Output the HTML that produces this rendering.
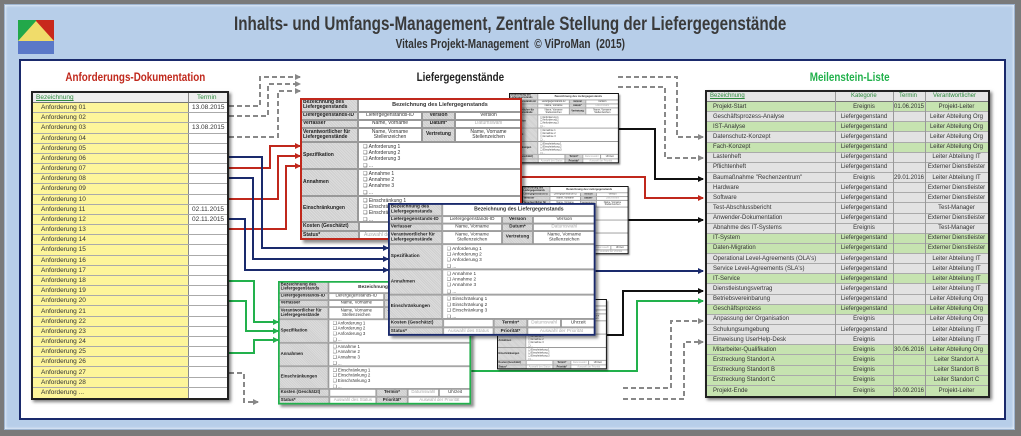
<!DOCTYPE html>
<html><head><meta charset="utf-8">
<style>
*{margin:0;padding:0;box-sizing:border-box}
body{width:1021px;height:436px;overflow:hidden;background:#7a7a7a;font-family:"Liberation Sans",sans-serif;position:relative}
#frame{position:absolute;left:4px;top:4px;width:1011px;height:426px;background:#b7cee9;border:1px solid #9fb5d0;box-shadow:inset 0 0 3px #fff}
#panel{position:absolute;left:19px;top:59px;width:987px;height:361px;background:#fff;border:2px solid #1a2a6c}
.logo{position:absolute;left:18px;top:20px;width:36px;height:34px}
.t1{position:absolute;left:0;width:1021px;top:14px;text-align:center;font-weight:bold;font-size:19px;color:#3a3a3a}
.t1 span,.t2 span{display:inline-block;transform:scaleX(.8)}
.t2{position:absolute;left:0;width:1021px;top:37px;text-align:center;font-weight:bold;font-size:12.5px;color:#333}
.sec{position:absolute;top:70px;font-weight:bold;font-size:12px;text-align:center}
.sec span{display:inline-block;transform:scaleX(.82)}
.tbl{position:absolute;border:2px solid #222;box-shadow:2px 2px 3px rgba(0,0,0,.5);background:#fff;font-size:6.5px;color:#333}
.tbl .hd{position:absolute;left:0;top:0;right:0;background:#eee;border-bottom:1px solid #777;color:#2e8b3e}
.tbl .rows{position:absolute;left:0;right:0;bottom:0;display:grid}
.r{position:relative;border-bottom:1px solid #aaa;white-space:nowrap}
.r span{position:absolute;top:0;bottom:0;display:flex;align-items:center}
.rt .r{font-size:6px}
.rt .r span:first-child{left:6px}
.rt .r .k{left:128px;width:58px;justify-content:center}
.rt .r .t{left:186px;width:32px;justify-content:center}
.rt .r .w{left:218px;width:63px;justify-content:center}
.G{background:#c6e3b0}.E{background:#e2e2e2}
.cd{position:absolute;width:222px;height:142px;transform-origin:0 0;background:#fff;box-shadow:3px 3px 3px rgba(0,0,0,.45);font-size:5px;color:#333}
.cd div{position:absolute;border:0.5px solid #999;display:flex;align-items:center;overflow:hidden;line-height:1.1}
.cd .k{background:repeating-linear-gradient(45deg,#cfcfcf 0 1px,#dcdcdc 1px 2px);font-weight:bold;padding-left:2px;color:#222}
.cd .v{justify-content:center;text-align:center}
.cd .g{color:#aaa}
.cd .l{justify-content:flex-start;align-items:flex-start;flex-direction:column;padding:1px 4px;line-height:6.2px;text-align:left}
.cd .c{justify-content:center;padding:0}
.cd .bd{border:2px solid #111;left:0;top:0;width:222px;height:142px;background:none}
.a1{left:0;top:0;width:58px;height:14px}.a2{left:58px;top:0;width:164px;height:14px;font-weight:bold;font-size:5.5px}
.a3{left:0;top:14px;width:58px;height:8px}.a4{left:58px;top:14px;width:64px;height:8px}.a5{left:122px;top:14px;width:33px;height:8px}.a6{left:155px;top:14px;width:67px;height:8px}
.a7{left:0;top:22px;width:58px;height:8px}.a8{left:58px;top:22px;width:64px;height:8px}.a9{left:122px;top:22px;width:33px;height:8px}.a10{left:155px;top:22px;width:67px;height:8px}
.a11{left:0;top:30px;width:58px;height:14px}.a12{left:58px;top:30px;width:64px;height:14px}.a13{left:122px;top:30px;width:33px;height:14px}.a14{left:155px;top:30px;width:67px;height:14px}
.a15{left:0;top:44px;width:58px;height:27px}.a16{left:58px;top:44px;width:164px;height:27px}
.a17{left:0;top:71px;width:58px;height:27px}.a18{left:58px;top:71px;width:164px;height:27px}
.a19{left:0;top:98px;width:58px;height:26px}.a20{left:58px;top:98px;width:164px;height:26px}
.a21{left:0;top:124px;width:59px;height:9px}.a22{left:59px;top:124px;width:54px;height:9px}.a23{left:113px;top:124px;width:36px;height:9px}.a24{left:149px;top:124px;width:36px;height:9px}.a25{left:185px;top:124px;width:37px;height:9px}
.a26{left:0;top:133px;width:59px;height:9px}.a27{left:59px;top:133px;width:54px;height:9px}.a28{left:113px;top:133px;width:36px;height:9px}.a29{left:149px;top:133px;width:73px;height:9px}
svg.cn{position:absolute;left:0;top:0}
</style></head><body>
<div id="frame"></div>
<div id="panel"></div>
<svg class="logo" viewBox="0 0 36 34"><rect x="0" y="0" width="18" height="21" fill="#22a84a"/><rect x="18" y="0" width="18" height="21" fill="#c8281c"/><polygon points="0,21 18,1 36,21" fill="#f0dc6a"/><rect x="0" y="21" width="36" height="13" fill="#5a78c8"/></svg>
<div class="t1"><span>Inhalts- und Umfangs-Management, Zentrale Stellung der Liefergegenstände</span></div>
<div class="t2"><span>Vitales Projekt-Management &nbsp;© ViProMan &nbsp;(2015)</span></div>
<div class="sec" style="left:30px;width:210px;color:#c0281c"><span>Anforderungs-Dokumentation</span></div>
<div class="sec" style="left:380px;width:160px;color:#222"><span>Liefergegenstände</span></div>
<div class="sec" style="left:770px;width:160px;color:#22b14c"><span>Meilenstein-Liste</span></div>

<svg class="cn" width="1021" height="436">
<defs>
<marker id="mk" markerWidth="6" markerHeight="6" refX="5" refY="3" orient="auto" markerUnits="userSpaceOnUse"><path d="M0,0 L6,3 L0,6z" fill="#111"/></marker>
<marker id="mr" markerWidth="6" markerHeight="6" refX="5" refY="3" orient="auto" markerUnits="userSpaceOnUse"><path d="M0,0 L6,3 L0,6z" fill="#c0281c"/></marker>
<marker id="mb" markerWidth="6" markerHeight="6" refX="5" refY="3" orient="auto" markerUnits="userSpaceOnUse"><path d="M0,0 L6,3 L0,6z" fill="#1a2a6c"/></marker>
<marker id="mg" markerWidth="6" markerHeight="6" refX="5" refY="3" orient="auto" markerUnits="userSpaceOnUse"><path d="M0,0 L6,3 L0,6z" fill="#22b14c"/></marker>
<marker id="my" markerWidth="6" markerHeight="6" refX="5" refY="3" orient="auto" markerUnits="userSpaceOnUse"><path d="M0,0 L6,3 L0,6z" fill="#888"/></marker>
</defs>
<g fill="none" stroke-width="2">
<g stroke="#888" stroke-dasharray="5,3" marker-end="url(#my)">
<path d="M229,106 H260 V77 H300"/><path d="M229,116 H268 V84 H300"/><path d="M229,137 H278 V91 H300"/>
<path d="M229,373 H244 V402 H258"/>
<path d="M618,77 H677 V137 H703"/><path d="M618,87 H665 V158 H703"/>
<path d="M623,388 H671 V321 H703"/><path d="M623,399 H684 V342 H703"/>
</g>
<g stroke="#c0281c" marker-end="url(#mr)">
<path d="M229,168 H270 V146 H300"/><path d="M229,199 H278 V156 H300"/><path d="M229,229 H286 V166 H300"/>
<path d="M520,177 H645 V198 H703"/>
</g>
<g stroke="#1a2a6c" marker-end="url(#mb)">
<path d="M229,157 H262 V248 H388"/><path d="M229,178 H253 V259 H388"/><path d="M229,219 H245 V270 H388"/>
<path d="M560,271 H703"/>
</g>
<g stroke="#22b14c" marker-end="url(#mg)">
<path d="M229,281 H254 V322 H278"/><path d="M229,301 H246 V331 H278"/><path d="M229,353 H254 V340 H278"/>
<path d="M470,371 H637 V301 H703"/>
</g>
<g stroke="#111" marker-end="url(#mk)">
<path d="M617,129 H655 V179 H703"/><path d="M624,220 H703"/><path d="M605,335 H623 V291 H703"/>
</g>
</g>
</svg>

<!-- left table -->
<div class="tbl" style="left:31px;top:91px;width:198px;height:309px">
<div class="hd" style="height:10px"><span style="position:absolute;left:3px;top:1px;text-decoration:underline">Bezeichnung</span><span style="position:absolute;left:164px;top:1px">Termin</span><span style="position:absolute;left:155px;top:0;width:1px;height:10px;background:#888"></span></div>
<div class="rows" style="top:10px;grid-template-rows:repeat(29,1fr);background:linear-gradient(90deg,#fdf59a 0 155px,#888 155px 156px,#fff 156px)">
<div class="r"><span style="left:8px">Anforderung 01</span><span style="left:159px">13.08.2015</span></div>
<div class="r"><span style="left:8px">Anforderung 02</span></div>
<div class="r"><span style="left:8px">Anforderung 03</span><span style="left:159px">13.08.2015</span></div>
<div class="r"><span style="left:8px">Anforderung 04</span></div>
<div class="r"><span style="left:8px">Anforderung 05</span></div>
<div class="r"><span style="left:8px">Anforderung 06</span></div>
<div class="r"><span style="left:8px">Anforderung 07</span></div>
<div class="r"><span style="left:8px">Anforderung 08</span></div>
<div class="r"><span style="left:8px">Anforderung 09</span></div>
<div class="r"><span style="left:8px">Anforderung 10</span></div>
<div class="r"><span style="left:8px">Anforderung 11</span><span style="left:159px">02.11.2015</span></div>
<div class="r"><span style="left:8px">Anforderung 12</span><span style="left:159px">02.11.2015</span></div>
<div class="r"><span style="left:8px">Anforderung 13</span></div>
<div class="r"><span style="left:8px">Anforderung 14</span></div>
<div class="r"><span style="left:8px">Anforderung 15</span></div>
<div class="r"><span style="left:8px">Anforderung 16</span></div>
<div class="r"><span style="left:8px">Anforderung 17</span></div>
<div class="r"><span style="left:8px">Anforderung 18</span></div>
<div class="r"><span style="left:8px">Anforderung 19</span></div>
<div class="r"><span style="left:8px">Anforderung 20</span></div>
<div class="r"><span style="left:8px">Anforderung 21</span></div>
<div class="r"><span style="left:8px">Anforderung 22</span></div>
<div class="r"><span style="left:8px">Anforderung 23</span></div>
<div class="r"><span style="left:8px">Anforderung 24</span></div>
<div class="r"><span style="left:8px">Anforderung 25</span></div>
<div class="r"><span style="left:8px">Anforderung 26</span></div>
<div class="r"><span style="left:8px">Anforderung 27</span></div>
<div class="r"><span style="left:8px">Anforderung 28</span></div>
<div class="r" style="border:0"><span style="left:8px">Anforderung ...</span></div>
</div></div>

<!-- right table -->
<div class="tbl rt" style="left:705px;top:90px;width:285px;height:308px">
<div class="hd" style="height:10px;background:#e4e4e4;font-size:6px"><span style="position:absolute;left:3px;top:1px;text-decoration:underline">Bezeichnung</span><span style="position:absolute;left:144px;top:1px">Kategorie</span><span style="position:absolute;left:192px;top:1px">Termin</span><span style="position:absolute;left:226px;top:1px">Verantwortlicher</span></div>
<div class="rows" style="top:10px;grid-template-rows:repeat(29,1fr)">
<div class="r G"><span>Projekt-Start</span><span class="k">Ereignis</span><span class="t">01.06.2015</span><span class="w">Projekt-Leiter</span></div>
<div class="r E"><span>Geschäftsprozess-Analyse</span><span class="k">Liefergegenstand</span><span class="w">Leiter Abteilung Org</span></div>
<div class="r G"><span>IST-Analyse</span><span class="k">Liefergegenstand</span><span class="w">Leiter Abteilung Org</span></div>
<div class="r E"><span>Datenschutz-Konzept</span><span class="k">Liefergegenstand</span><span class="w">Leiter Abteilung Org</span></div>
<div class="r G"><span>Fach-Konzept</span><span class="k">Liefergegenstand</span><span class="w">Leiter Abteilung Org</span></div>
<div class="r E"><span>Lastenheft</span><span class="k">Liefergegenstand</span><span class="w">Leiter Abteilung IT</span></div>
<div class="r E"><span>Pflichtenheft</span><span class="k">Liefergegenstand</span><span class="w">Externer Dienstleister</span></div>
<div class="r E"><span>Baumaßnahme "Rechenzentrum"</span><span class="k">Ereignis</span><span class="t">29.01.2016</span><span class="w">Leiter Abteilung IT</span></div>
<div class="r E"><span>Hardware</span><span class="k">Liefergegenstand</span><span class="w">Externer Dienstleister</span></div>
<div class="r E"><span>Software</span><span class="k">Liefergegenstand</span><span class="w">Externer Dienstleister</span></div>
<div class="r E"><span>Test-Abschlussbericht</span><span class="k">Liefergegenstand</span><span class="w">Test-Manager</span></div>
<div class="r E"><span>Anwender-Dokumentation</span><span class="k">Liefergegenstand</span><span class="w">Externer Dienstleister</span></div>
<div class="r E"><span>Abnahme des IT-Systems</span><span class="k">Ereignis</span><span class="w">Test-Manager</span></div>
<div class="r G"><span>IT-System</span><span class="k">Liefergegenstand</span><span class="w">Externer Dienstleister</span></div>
<div class="r G"><span>Daten-Migration</span><span class="k">Liefergegenstand</span><span class="w">Externer Dienstleister</span></div>
<div class="r E"><span>Operational Level-Agreements (OLA's)</span><span class="k">Liefergegenstand</span><span class="w">Leiter Abteilung IT</span></div>
<div class="r E"><span>Service Level-Agreements (SLA's)</span><span class="k">Liefergegenstand</span><span class="w">Leiter Abteilung IT</span></div>
<div class="r G"><span>IT-Service</span><span class="k">Liefergegenstand</span><span class="w">Leiter Abteilung IT</span></div>
<div class="r E"><span>Dienstleistungsvertrag</span><span class="k">Liefergegenstand</span><span class="w">Leiter Abteilung IT</span></div>
<div class="r E"><span>Betriebsvereinbarung</span><span class="k">Liefergegenstand</span><span class="w">Leiter Abteilung Org</span></div>
<div class="r G"><span>Geschäftsprozess</span><span class="k">Liefergegenstand</span><span class="w">Leiter Abteilung Org</span></div>
<div class="r E"><span>Anpassung der Organisation</span><span class="k">Ereignis</span><span class="w">Leiter Abteilung Org</span></div>
<div class="r E"><span>Schulungsumgebung</span><span class="k">Liefergegenstand</span><span class="w">Leiter Abteilung IT</span></div>
<div class="r E"><span>Einweisung UserHelp-Desk</span><span class="k">Ereignis</span><span class="w">Leiter Abteilung IT</span></div>
<div class="r G"><span>Mitarbeiter-Qualifikation</span><span class="k">Ereignis</span><span class="t">30.06.2016</span><span class="w">Leiter Abteilung Org</span></div>
<div class="r G"><span>Erstreckung Standort A</span><span class="k">Ereignis</span><span class="w">Leiter Standort A</span></div>
<div class="r G"><span>Erstreckung Standort B</span><span class="k">Ereignis</span><span class="w">Leiter Standort B</span></div>
<div class="r G"><span>Erstreckung Standort C</span><span class="k">Ereignis</span><span class="w">Leiter Standort C</span></div>
<div class="r G" style="border:0"><span>Projekt-Ende</span><span class="k">Ereignis</span><span class="t">30.09.2016</span><span class="w">Projekt-Leiter</span></div>
</div>
<div style="position:absolute;top:0;bottom:0;left:128px;width:1px;background:#999"></div>
<div style="position:absolute;top:0;bottom:0;left:186px;width:1px;background:#999"></div>
<div style="position:absolute;top:0;bottom:0;left:218px;width:1px;background:#999"></div>
</div>

<!-- cards: small first -->
<div class="cd" style="left:509px;top:93px;transform:scale(.495)">
<div class="k a1">Bezeichnung des Liefergegenstands</div><div class="v a2">Bezeichnung des Liefergegenstands</div>
<div class="k a3">Liefergegenstands-ID</div><div class="v a4">Liefergegenstands-ID</div><div class="k c a5">Version</div><div class="v a6">Version</div>
<div class="k a7">Verfasser</div><div class="v a8">Name, Vorname</div><div class="k c a9">Datum*</div><div class="v g a10">Datumswahl</div>
<div class="k a11">Verantwortlicher für Liefergegenstände</div><div class="v a12">Name, Vorname Stellenzeichen</div><div class="k c a13">Vertretung</div><div class="v a14">Name, Vorname Stellenzeichen</div>
<div class="k a15">Spezifikation</div><div class="v l a16"><span>❑ Anforderung 1</span><span>❑ Anforderung 2</span><span>❑ Anforderung 3</span><span>❑ ...</span></div>
<div class="k a17">Annahmen</div><div class="v l a18"><span>❑ Annahme 1</span><span>❑ Annahme 2</span><span>❑ Annahme 3</span><span>❑ ...</span></div>
<div class="k a19">Einschränkungen</div><div class="v l a20"><span>❑ Einschränkung 1</span><span>❑ Einschränkung 2</span><span>❑ Einschränkung 3</span><span>❑ ...</span></div>
<div class="k a21">Kosten (Geschätzt)</div><div class="v a22"></div><div class="k c a23">Termin*</div><div class="v g a24">Datumswahl</div><div class="v a25">Uhrzeit</div>
<div class="k a26">Status*</div><div class="v g a27">Auswahl des Status</div><div class="k c a28">Priorität*</div><div class="v g a29">Auswahl der Priorität</div>
<div class="bd"></div></div>

<div class="cd" style="left:522px;top:186px;transform:scale(.48)">
<div class="k a1">Bezeichnung des Liefergegenstands</div><div class="v a2">Bezeichnung des Liefergegenstands</div>
<div class="k a3">Liefergegenstands-ID</div><div class="v a4">Liefergegenstands-ID</div><div class="k c a5">Version</div><div class="v a6">Version</div>
<div class="k a7">Verfasser</div><div class="v a8">Name, Vorname</div><div class="k c a9">Datum*</div><div class="v g a10">Datumswahl</div>
<div class="k a11">Verantwortlicher für Liefergegenstände</div><div class="v a12">Name, Vorname Stellenzeichen</div><div class="k c a13">Vertretung</div><div class="v a14">Name, Vorname Stellenzeichen</div>
<div class="k a15">Spezifikation</div><div class="v l a16"><span>❑ Anforderung 1</span><span>❑ Anforderung 2</span><span>❑ Anforderung 3</span><span>❑ ...</span></div>
<div class="k a17">Annahmen</div><div class="v l a18"><span>❑ Annahme 1</span><span>❑ Annahme 2</span><span>❑ Annahme 3</span><span>❑ ...</span></div>
<div class="k a19">Einschränkungen</div><div class="v l a20"><span>❑ Einschränkung 1</span><span>❑ Einschränkung 2</span><span>❑ Einschränkung 3</span><span>❑ ...</span></div>
<div class="k a21">Kosten (Geschätzt)</div><div class="v a22"></div><div class="k c a23">Termin*</div><div class="v g a24">Datumswahl</div><div class="v a25">Uhrzeit</div>
<div class="k a26">Status*</div><div class="v g a27">Auswahl des Status</div><div class="k c a28">Priorität*</div><div class="v g a29">Auswahl der Priorität</div>
<div class="bd"></div></div>

<div class="cd" style="left:497px;top:299px;transform:scale(.495)">
<div class="k a1">Bezeichnung des Liefergegenstands</div><div class="v a2">Bezeichnung des Liefergegenstands</div>
<div class="k a3">Liefergegenstands-ID</div><div class="v a4">Liefergegenstands-ID</div><div class="k c a5">Version</div><div class="v a6">Version</div>
<div class="k a7">Verfasser</div><div class="v a8">Name, Vorname</div><div class="k c a9">Datum*</div><div class="v g a10">Datumswahl</div>
<div class="k a11">Verantwortlicher für Liefergegenstände</div><div class="v a12">Name, Vorname Stellenzeichen</div><div class="k c a13">Vertretung</div><div class="v a14">Name, Vorname Stellenzeichen</div>
<div class="k a15">Spezifikation</div><div class="v l a16"><span>❑ Anforderung 1</span><span>❑ Anforderung 2</span><span>❑ Anforderung 3</span><span>❑ ...</span></div>
<div class="k a17">Annahmen</div><div class="v l a18"><span>❑ Annahme 1</span><span>❑ Annahme 2</span><span>❑ Annahme 3</span><span>❑ ...</span></div>
<div class="k a19">Einschränkungen</div><div class="v l a20"><span>❑ Einschränkung 1</span><span>❑ Einschränkung 2</span><span>❑ Einschränkung 3</span><span>❑ ...</span></div>
<div class="k a21">Kosten (Geschätzt)</div><div class="v a22"></div><div class="k c a23">Termin*</div><div class="v g a24">Datumswahl</div><div class="v a25">Uhrzeit</div>
<div class="k a26">Status*</div><div class="v g a27">Auswahl des Status</div><div class="k c a28">Priorität*</div><div class="v g a29">Auswahl der Priorität</div>
<div class="bd"></div></div>

<!-- red card -->
<div class="cd" style="left:300px;top:98px;transform:scale(1)">
<div class="k a1">Bezeichnung des Liefergegenstands</div><div class="v a2">Bezeichnung des Liefergegenstands</div>
<div class="k a3">Liefergegenstands-ID</div><div class="v a4">Liefergegenstands-ID</div><div class="k c a5">Version</div><div class="v a6">Version</div>
<div class="k a7">Verfasser</div><div class="v a8">Name, Vorname</div><div class="k c a9">Datum*</div><div class="v g a10">Datumswahl</div>
<div class="k a11">Verantwortlicher für Liefergegenstände</div><div class="v a12">Name, Vorname Stellenzeichen</div><div class="k c a13">Vertretung</div><div class="v a14">Name, Vorname Stellenzeichen</div>
<div class="k a15">Spezifikation</div><div class="v l a16"><span>❑ Anforderung 1</span><span>❑ Anforderung 2</span><span>❑ Anforderung 3</span><span>❑ ...</span></div>
<div class="k a17">Annahmen</div><div class="v l a18"><span>❑ Annahme 1</span><span>❑ Annahme 2</span><span>❑ Annahme 3</span><span>❑ ...</span></div>
<div class="k a19">Einschränkungen</div><div class="v l a20"><span>❑ Einschränkung 1</span><span>❑ Einschränkung 2</span><span>❑ Einschränkung 3</span><span>❑ ...</span></div>
<div class="k a21">Kosten (Geschätzt)</div><div class="v a22"></div><div class="k c a23">Termin*</div><div class="v g a24">Datumswahl</div><div class="v a25">Uhrzeit</div>
<div class="k a26">Status*</div><div class="v g a27">Auswahl des Status</div><div class="k c a28">Priorität*</div><div class="v g a29">Auswahl der Priorität</div>
<div class="bd" style="border-color:#c0281c"></div></div>

<!-- green card -->
<div class="cd" style="left:278px;top:281px;transform:scale(.87)">
<div class="k a1">Bezeichnung des Liefergegenstands</div><div class="v a2">Bezeichnung des Liefergegenstands</div>
<div class="k a3">Liefergegenstands-ID</div><div class="v a4">Liefergegenstands-ID</div><div class="k c a5">Version</div><div class="v a6">Version</div>
<div class="k a7">Verfasser</div><div class="v a8">Name, Vorname</div><div class="k c a9">Datum*</div><div class="v g a10">Datumswahl</div>
<div class="k a11">Verantwortlicher für Liefergegenstände</div><div class="v a12">Name, Vorname Stellenzeichen</div><div class="k c a13">Vertretung</div><div class="v a14">Name, Vorname Stellenzeichen</div>
<div class="k a15">Spezifikation</div><div class="v l a16"><span>❑ Anforderung 1</span><span>❑ Anforderung 2</span><span>❑ Anforderung 3</span><span>❑ ...</span></div>
<div class="k a17">Annahmen</div><div class="v l a18"><span>❑ Annahme 1</span><span>❑ Annahme 2</span><span>❑ Annahme 3</span><span>❑ ...</span></div>
<div class="k a19">Einschränkungen</div><div class="v l a20"><span>❑ Einschränkung 1</span><span>❑ Einschränkung 2</span><span>❑ Einschränkung 3</span><span>❑ ...</span></div>
<div class="k a21">Kosten (Geschätzt)</div><div class="v a22"></div><div class="k c a23">Termin*</div><div class="v g a24">Datumswahl</div><div class="v a25">Uhrzeit</div>
<div class="k a26">Status*</div><div class="v g a27">Auswahl des Status</div><div class="k c a28">Priorität*</div><div class="v g a29">Auswahl der Priorität</div>
<div class="bd" style="border-color:#22b14c"></div></div>

<!-- blue card -->
<div class="cd" style="left:388px;top:203px;transform:scale(.935)">
<div class="k a1">Bezeichnung des Liefergegenstands</div><div class="v a2">Bezeichnung des Liefergegenstands</div>
<div class="k a3">Liefergegenstands-ID</div><div class="v a4">Liefergegenstands-ID</div><div class="k c a5">Version</div><div class="v a6">Version</div>
<div class="k a7">Verfasser</div><div class="v a8">Name, Vorname</div><div class="k c a9">Datum*</div><div class="v g a10">Datumswahl</div>
<div class="k a11">Verantwortlicher für Liefergegenstände</div><div class="v a12">Name, Vorname Stellenzeichen</div><div class="k c a13">Vertretung</div><div class="v a14">Name, Vorname Stellenzeichen</div>
<div class="k a15">Spezifikation</div><div class="v l a16"><span>❑ Anforderung 1</span><span>❑ Anforderung 2</span><span>❑ Anforderung 3</span><span>❑ ...</span></div>
<div class="k a17">Annahmen</div><div class="v l a18"><span>❑ Annahme 1</span><span>❑ Annahme 2</span><span>❑ Annahme 3</span><span>❑ ...</span></div>
<div class="k a19">Einschränkungen</div><div class="v l a20"><span>❑ Einschränkung 1</span><span>❑ Einschränkung 2</span><span>❑ Einschränkung 3</span><span>❑ ...</span></div>
<div class="k a21">Kosten (Geschätzt)</div><div class="v a22"></div><div class="k c a23">Termin*</div><div class="v g a24">Datumswahl</div><div class="v a25">Uhrzeit</div>
<div class="k a26">Status*</div><div class="v g a27">Auswahl des Status</div><div class="k c a28">Priorität*</div><div class="v g a29">Auswahl der Priorität</div>
<div class="bd" style="border-color:#1a2a6c"></div></div>

</body></html>
